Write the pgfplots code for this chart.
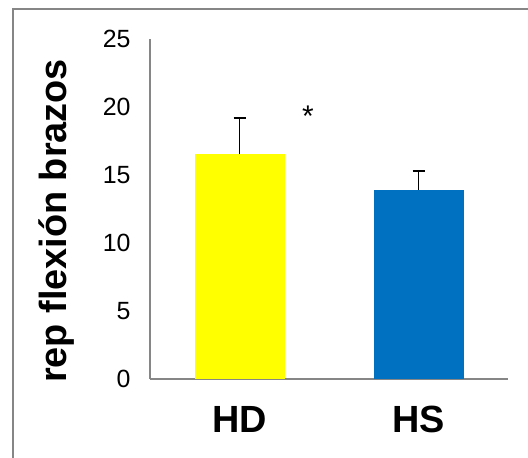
\documentclass[border=0pt]{standalone}
\usepackage{fontspec}
\setmainfont{Liberation Sans}
\usepackage{pgfplots}
\pgfplotsset{compat=1.18}
\definecolor{hdyellow}{HTML}{FFFF00}
\definecolor{hsblue}{HTML}{0070C0}
\definecolor{axgray}{HTML}{868686}
\begin{document}
\begin{tikzpicture}[x=1bp,y=1bp]
\path[use as bounding box] (0,0) rectangle (528,458);
\draw[axgray, line width=1.5bp] (13,0) -- (13,449) -- (528,449);
\begin{axis}[
  at={(150bp,79bp)}, anchor=south west,
  scale only axis, width=358bp, height=340bp,
  xmin=-0.5, xmax=1.5, ymin=0, ymax=25,
  ytick={0,5,10,15,20,25}, xtick={0,1}, xticklabels={HD,HS},
  axis lines*=left,
  axis line style={axgray, line width=1.5bp},
  major tick length=0pt,
  tick style={draw=none},
  /pgf/number format/assume math mode=true,
  yticklabel style={font=\fontsize{25}{29}\selectfont, xshift=-16bp},
  xticklabel style={font=\fontsize{38}{42}\selectfont\bfseries, yshift=-24bp},
  ylabel={rep flexión brazos},
  ylabel style={font=\fontsize{38}{42}\selectfont\bfseries, at={(axis description cs:-0.2598,0.4647)}, anchor=center},
  ybar, bar width=90bp, bar shift=0pt,
  clip=false,
]
\addplot[fill=hdyellow, draw=none,
  error bars/.cd, y dir=plus, y explicit,
  error bar style={black, line width=1.5bp},
  error mark options={black, rotate=90, mark size=6bp, line width=1.5bp}]
  coordinates {(0,16.54) +- (0,2.65)};
\addplot[fill=hsblue, draw=none,
  error bars/.cd, y dir=plus, y explicit,
  error bar style={black, line width=1.5bp},
  error mark options={black, rotate=90, mark size=6bp, line width=1.5bp}]
  coordinates {(1,13.9) +- (0,1.4)};
\node[font=\fontsize{30}{34}\selectfont] at (axis cs:0.383,19.3) {*};
\end{axis}
\end{tikzpicture}
\end{document}
